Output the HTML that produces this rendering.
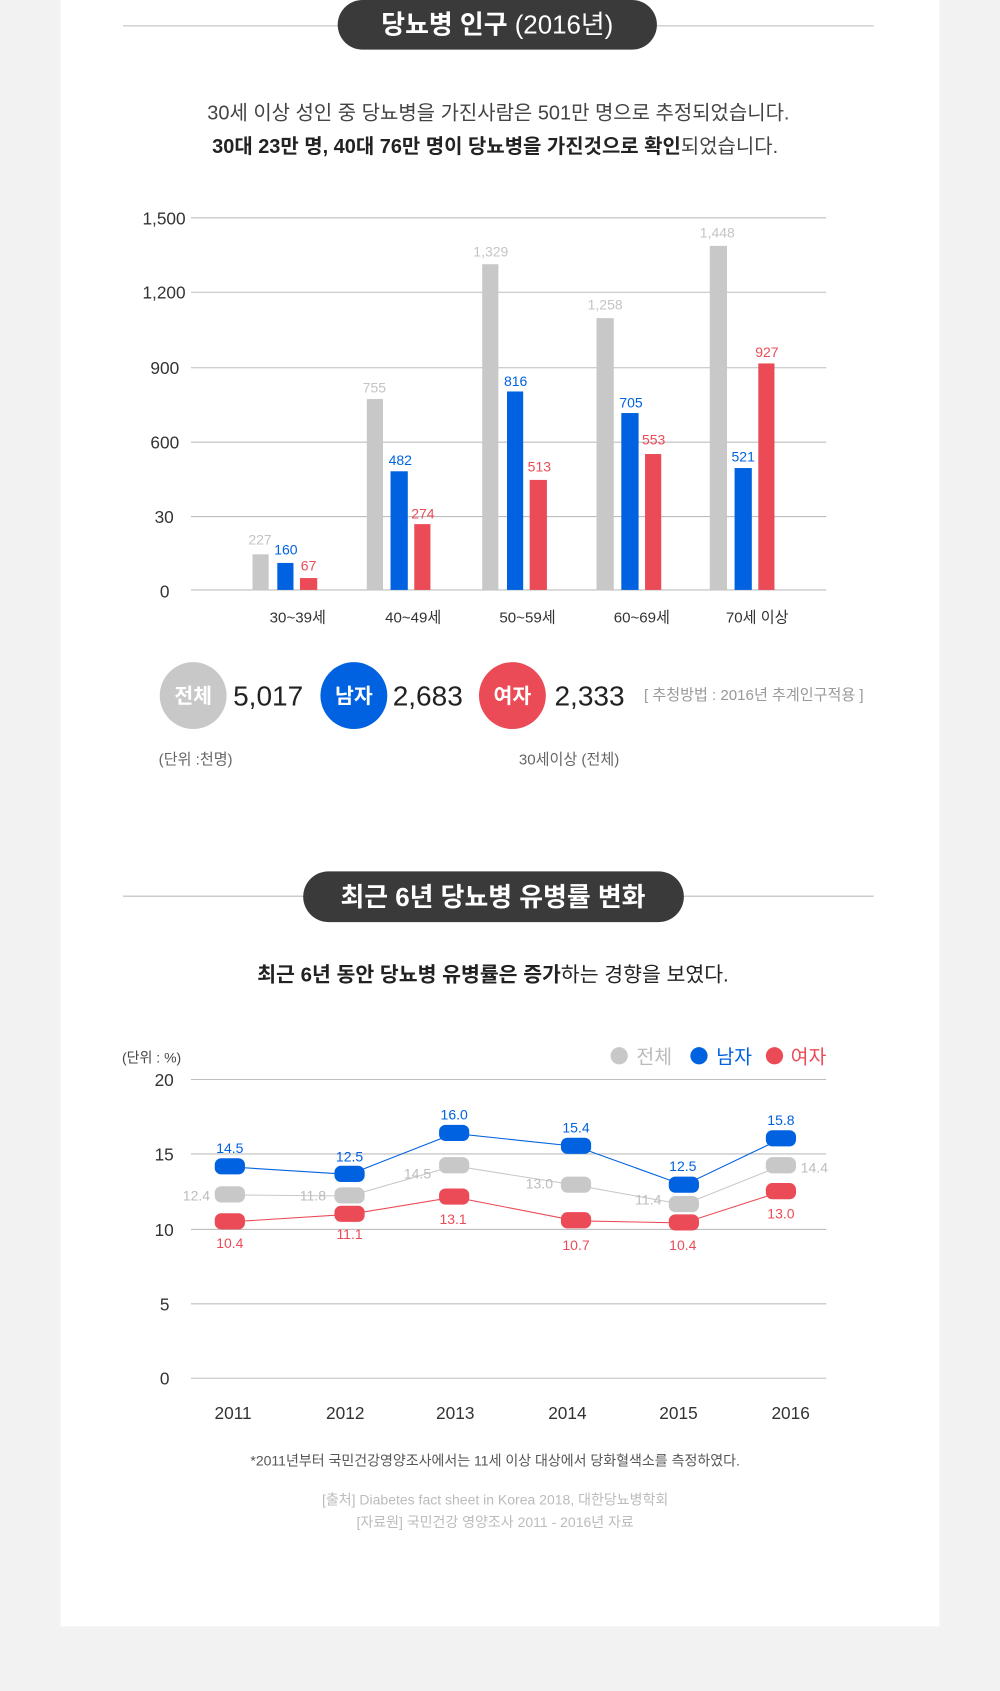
<!DOCTYPE html>
<html><head><meta charset="utf-8"><style>
html,body{margin:0;padding:0;background:#f2f2f2;}
svg{display:block;}
text{font-family:"Liberation Sans","Noto Sans CJK KR",sans-serif;}
</style></head><body>
<svg width="1000" height="1691" viewBox="0 0 927 1568" xmlns="http://www.w3.org/2000/svg">
<rect x="0" y="0" width="927" height="1568" fill="#f2f2f2"/>
<rect x="56" y="0" width="815" height="1508" fill="#fff"/>
<!-- title 1 -->
<line x1="114" y1="24" x2="810" y2="24" stroke="#bbb" stroke-width="1"/>
<rect x="313" y="0" width="296" height="46" rx="23" fill="#3a3a3a"/>
<text x="461" y="31" text-anchor="middle" font-size="24" fill="#fff" font-weight="bold">당뇨병 인구 <tspan font-weight="normal">(2016년)</tspan></text>
<text x="462" y="111" text-anchor="middle" font-size="18.5" fill="#444">30세 이상 성인 중 당뇨병을 가진사람은 501만 명으로 추정되었습니다.</text>
<text x="459" y="142" text-anchor="middle" font-size="18.5" fill="#222" font-weight="bold">30대 23만 명, 40대 76만 명이 당뇨병을 가진것으로 확인<tspan font-weight="normal" fill="#444">되었습니다.</tspan></text>
<!-- bar chart grid -->
<g stroke="#bdbdbd" stroke-width="1">
<line x1="177" y1="202" x2="766" y2="202"/><line x1="177" y1="271" x2="766" y2="271"/>
<line x1="177" y1="341" x2="766" y2="341"/><line x1="177" y1="410" x2="766" y2="410"/>
<line x1="177" y1="479" x2="766" y2="479"/><line x1="177" y1="547" x2="766" y2="547"/>
</g>
<g font-size="16" fill="#333" text-anchor="end">
<text x="172" y="208">1,500</text><text x="172" y="277">1,200</text><text x="166" y="347">900</text>
<text x="166" y="416">600</text><text x="161" y="485">30</text><text x="157" y="554">0</text>
</g>
<g fill="#c8c8c8">
<rect x="234" y="514" width="15" height="33"/><rect x="340" y="370" width="15" height="177"/>
<rect x="447" y="245" width="15" height="302"/><rect x="553" y="295" width="16" height="252"/>
<rect x="658" y="228" width="16" height="319"/>
</g>
<g fill="#0062e0">
<rect x="257" y="522" width="15" height="25"/><rect x="362" y="437" width="16" height="110"/>
<rect x="470" y="363" width="15" height="184"/><rect x="576" y="383" width="16" height="164"/>
<rect x="681" y="434" width="16" height="113"/>
</g>
<g fill="#eb4b57">
<rect x="278" y="536" width="16" height="11"/><rect x="384" y="486" width="15" height="61"/>
<rect x="491" y="445" width="16" height="102"/><rect x="598" y="421" width="15" height="126"/>
<rect x="703" y="337" width="15" height="210"/>
</g>
<g font-size="13" text-anchor="middle">
<g fill="#c4c4c4"><text x="241" y="505">227</text><text x="347" y="364">755</text><text x="455" y="238">1,329</text><text x="561" y="287">1,258</text><text x="665" y="220">1,448</text></g>
<g fill="#0062e0"><text x="265" y="514">160</text><text x="371" y="431">482</text><text x="478" y="358">816</text><text x="585" y="378">705</text><text x="689" y="428">521</text></g>
<g fill="#eb4b57"><text x="286" y="529">67</text><text x="392" y="481">274</text><text x="500" y="437">513</text><text x="606" y="412">553</text><text x="711" y="331">927</text></g>
</g>
<g font-size="14" fill="#333" text-anchor="middle">
<text x="276" y="577">30~39세</text><text x="383" y="577">40~49세</text><text x="489" y="577">50~59세</text><text x="595" y="577">60~69세</text><text x="702" y="577">70세 이상</text>
</g>
<!-- summary -->
<circle cx="179" cy="645" r="31" fill="#c8c8c8"/><circle cx="328" cy="645" r="31" fill="#0062e0"/><circle cx="475" cy="645" r="31" fill="#eb4b57"/>
<g font-size="19" fill="#fff" text-anchor="middle" font-weight="bold">
<text x="179" y="652">전체</text><text x="328" y="652">남자</text><text x="475" y="652">여자</text>
</g>
<g font-size="26" fill="#222">
<text x="216" y="654">5,017</text><text x="364" y="654">2,683</text><text x="514" y="654">2,333</text>
</g>
<text x="597" y="649" font-size="14" fill="#999">[ 추청방법 : 2016년 추계인구적용 ]</text>
<text x="147" y="709" font-size="14" fill="#666">(단위 :천명)</text>
<text x="481" y="709" font-size="14" fill="#666">30세이상 (전체)</text>
<!-- title 2 -->
<line x1="114" y1="831" x2="810" y2="831" stroke="#bbb" stroke-width="1"/>
<rect x="281" y="808" width="353" height="47" rx="23.5" fill="#3a3a3a"/>
<text x="457" y="840" text-anchor="middle" font-size="24" fill="#fff" font-weight="bold">최근 6년 당뇨병 유병률 변화</text>
<text x="457" y="910" text-anchor="middle" font-size="19" fill="#222" font-weight="bold">최근 6년 동안 당뇨병 유병률은 증가<tspan font-weight="normal">하는 경향을 보였다.</tspan></text>
<!-- line chart -->
<text x="113" y="985" font-size="13" fill="#444">(단위 : %)</text>
<circle cx="574" cy="979" r="8" fill="#c8c8c8"/><text x="590" y="986" font-size="18" fill="#bbb">전체</text>
<circle cx="648" cy="979" r="8" fill="#0062e0"/><text x="664" y="986" font-size="18" fill="#0062e0">남자</text>
<circle cx="718" cy="979" r="8" fill="#eb4b57"/><text x="733" y="986" font-size="18" fill="#eb4b57">여자</text>
<g stroke="#bdbdbd" stroke-width="1">
<line x1="177" y1="1001" x2="766" y2="1001"/><line x1="177" y1="1070" x2="766" y2="1070"/>
<line x1="177" y1="1140" x2="766" y2="1140"/><line x1="177" y1="1209" x2="766" y2="1209"/>
<line x1="177" y1="1278" x2="766" y2="1278"/>
</g>
<g font-size="16" fill="#333" text-anchor="end">
<text x="161" y="1007">20</text><text x="161" y="1076">15</text><text x="161" y="1146">10</text><text x="157" y="1215">5</text><text x="157" y="1284">0</text>
</g>
<g font-size="16" fill="#333" text-anchor="middle">
<text x="216" y="1316">2011</text><text x="320" y="1316">2012</text><text x="422" y="1316">2013</text><text x="526" y="1316">2014</text><text x="629" y="1316">2015</text><text x="733" y="1316">2016</text>
</g>
<polyline points="213,1108 324,1109 421,1081 534,1099 634,1117 724,1081" fill="none" stroke="#c8c8c8" stroke-width="1"/>
<polyline points="213,1082 324,1089 421,1051 534,1063 634,1099 724,1056" fill="none" stroke="#0062e0" stroke-width="1"/>
<polyline points="213,1133 324,1126 421,1110 534,1132 634,1134 724,1105" fill="none" stroke="#eb4b57" stroke-width="1"/>
<g fill="#c8c8c8">
<rect x="199" y="1100" width="28" height="15" rx="6"/><rect x="310" y="1101" width="28" height="15" rx="6"/><rect x="407" y="1073" width="28" height="15" rx="6"/><rect x="520" y="1091" width="28" height="15" rx="6"/><rect x="620" y="1109" width="28" height="15" rx="6"/><rect x="710" y="1073" width="28" height="15" rx="6"/>
</g>
<g fill="#0062e0">
<rect x="199" y="1074" width="28" height="15" rx="6"/><rect x="310" y="1081" width="28" height="15" rx="6"/><rect x="407" y="1043" width="28" height="15" rx="6"/><rect x="520" y="1055" width="28" height="15" rx="6"/><rect x="620" y="1091" width="28" height="15" rx="6"/><rect x="710" y="1048" width="28" height="15" rx="6"/>
</g>
<g fill="#eb4b57">
<rect x="199" y="1125" width="28" height="15" rx="6"/><rect x="310" y="1118" width="28" height="15" rx="6"/><rect x="407" y="1102" width="28" height="15" rx="6"/><rect x="520" y="1124" width="28" height="15" rx="6"/><rect x="620" y="1126" width="28" height="15" rx="6"/><rect x="710" y="1097" width="28" height="15" rx="6"/>
</g>
<g font-size="13" text-anchor="middle" fill="#0062e0">
<text x="213" y="1069">14.5</text><text x="324" y="1077">12.5</text><text x="421" y="1038">16.0</text><text x="534" y="1050">15.4</text><text x="633" y="1086">12.5</text><text x="724" y="1043">15.8</text>
</g>
<g font-size="13" text-anchor="middle" fill="#bcbcbc">
<text x="182" y="1113">12.4</text><text x="290" y="1113">11.8</text><text x="387" y="1093">14.5</text><text x="500" y="1102">13.0</text><text x="601" y="1117">11.4</text><text x="755" y="1087">14.4</text>
</g>
<g font-size="13" text-anchor="middle" fill="#eb4b57">
<text x="213" y="1157">10.4</text><text x="324" y="1149">11.1</text><text x="420" y="1135">13.1</text><text x="534" y="1159">10.7</text><text x="633" y="1159">10.4</text><text x="724" y="1130">13.0</text>
</g>
<text x="459" y="1359" text-anchor="middle" font-size="13" fill="#555">*2011년부터 국민건강영양조사에서는 11세 이상 대상에서 당화혈색소를 측정하였다.</text>
<text x="459" y="1395" text-anchor="middle" font-size="13" fill="#bbb">[출처] Diabetes fact sheet in Korea 2018, 대한당뇨병학회</text>
<text x="459" y="1416" text-anchor="middle" font-size="13" fill="#bbb">[자료원] 국민건강 영양조사 2011 - 2016년 자료</text>
</svg>
</body></html>
